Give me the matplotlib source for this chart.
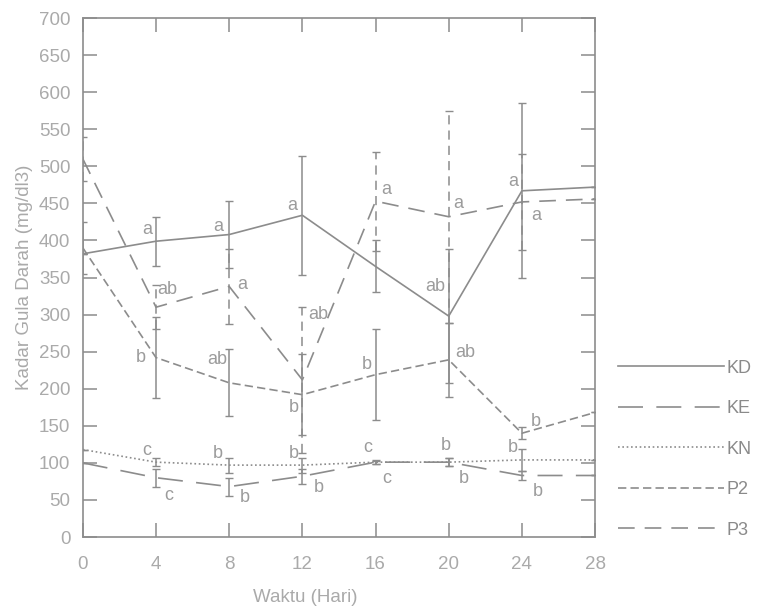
import matplotlib.pyplot as plt
import numpy as np

plt.rcParams['font.family'] = ['Liberation Sans', 'DejaVu Sans']

# data
hari = [0, 4, 8, 12, 16, 20, 24, 28]

kd = [382, 399, 408, 434, 365, 298, 467, 472]
kd_err = [0, 33, 45, 80, 35, 90, 118, 0]
kd_lbl = ['', 'a', 'a', 'a', '', 'ab', 'a', '']

ke = [100, 80, 68, 82, 101, 101, 83, 83]
ke_err = [0, 12, 12, 10, 2, 5, 6, 0]
ke_lbl = ['', 'c', 'b', 'b', 'c', 'b', 'b', '']

kn = [118, 101, 97, 97, 101, 101, 104, 104]
kn_err = [0, 5, 10, 10, 3, 5, 15, 0]
kn_lbl = ['', 'c', 'b', 'b', 'c', 'b', 'b', '']

p2 = [390, 242, 208, 192, 219, 239, 140, 168]
p2_err = [35, 55, 45, 55, 61, 50, 8, 0]
p2_lbl = ['', 'b', 'ab', 'b', 'b', 'ab', 'b', '']

p3 = [510, 310, 338, 212, 453, 432, 452, 456]
p3_err = [30, 30, 50, 98, 67, 143, 65, 0]
p3_lbl = ['', 'ab', 'a', 'ab', 'a', 'a', 'a', '']

# label offsets in pixels (dx, dy)
kd_off = [(0, 0), (-9, 12), (-11, 8), (-10, 10), (0, 0), (-13, 30), (-9, 9), (0, 0)]
ke_off = [(0, 0), (13, -18), (16, -11), (16, -11), (11, -16), (15, -16), (16, -16), (0, 0)]
kn_off = [(0, 0), (-9, 12), (-11, 12), (-9, 12), (-8, 15), (-3, 17), (-9, 12), (0, 0)]
p2_off = [(0, 0), (-15, 0), (-12, 23), (-9, -13), (-9, 10), (17, 7), (14, 12), (0, 0)]
p3_off = [(0, 0), (11, 18), (13, 2), (16, 65), (11, 12), (10, 13), (14, -14), (0, 0)]

lc = '#8c8c8c'
tc = '#9c9c9c'

fig = plt.figure(figsize=(7.6, 6.12), dpi=100)
ax = fig.add_axes([0.109, 0.1225, 0.674, 0.848])

series = [
    ('KD', kd, kd_err, kd_lbl, kd_off, '-', None),
    ('KE', ke, ke_err, ke_lbl, ke_off, '--', (15, 8)),
    ('KN', kn, kn_err, kn_lbl, kn_off, ':', (1, 1.6)),
    ('P2', p2, p2_err, p2_lbl, p2_off, '--', (5, 2.5)),
    ('P3', p3, p3_err, p3_lbl, p3_off, '--', (10, 6)),
]

handles = []
for name, vals, err, lbl, off, ls, dash in series:
    line, = ax.plot(hari, vals, ls, color=lc, lw=1.2, label=name)
    if dash is not None:
        line.set_dashes(dash)
    handles.append(line)
    eb = ax.errorbar(hari, vals, yerr=err, fmt='none', ecolor=lc,
                     elinewidth=1.1, capsize=3)
    if name == 'P3':
        eb[2][0].set_linestyle((0, (6, 4)))
    for x, v, t, o in zip(hari, vals, lbl, off):
        if t:
            ax.annotate(t, (x, v), xytext=o, textcoords='offset pixels',
                        ha='center', va='center', fontsize=13, color=tc)

ax.set_xlim(0, 28)
ax.set_ylim(0, 700)
ax.set_xticks(np.arange(0, 29, 4))
ax.set_yticks(np.arange(0, 701, 50))
ax.tick_params(direction='in', length=10, width=1.1, color=lc,
               labelcolor='#aaaaaa', labelsize=13.5,
               top=True, right=True)
ax.tick_params(axis='x', pad=14)
ax.tick_params(axis='y', pad=9)
for s in ax.spines.values():
    s.set_color(lc)
    s.set_linewidth(1.2)

ax.set_xlabel('Waktu (Hari)', fontsize=13.5, color='#aaaaaa')
ax.xaxis.set_label_coords(0.434, -0.1)
ax.set_ylabel('Kadar Gula Darah (mg/dl3)', fontsize=13.5, color='#aaaaaa')
ax.yaxis.set_label_coords(-0.098, 0.5)

fig.legend(handles=handles, loc='center left', bbox_to_anchor=(0.813, 0.266),
           frameon=False, handlelength=5.9, handletextpad=0.1,
           labelspacing=1.3, borderpad=0, borderaxespad=0,
           fontsize=13, labelcolor='#8a8a8a')

plt.savefig('out.png', dpi=100)
